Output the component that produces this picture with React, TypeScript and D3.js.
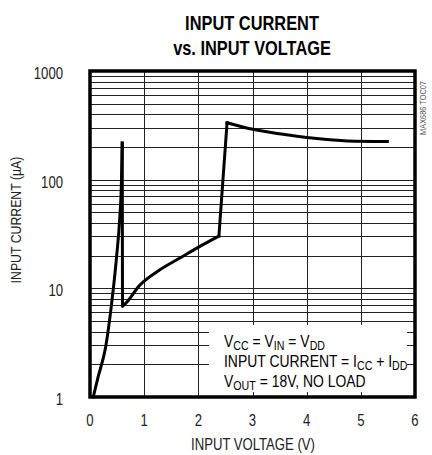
import React, { useEffect, useRef } from 'react';
import * as d3 from 'd3';

// curve: input voltage (V) vs input current (uA)
const voltage = [0.06, 0.15, 0.29, 0.4, 0.49, 0.55, 0.58, 0.595, 0.6, 0.62, 0.92, 1.29, 1.66, 2.02, 2.38, 2.53, 2.91, 3.53, 4.14, 4.75, 5.49];
const current = [1.0, 1.53, 2.9, 7.3, 19.4, 45, 93, 217, 6.9, 7.0, 10.7, 14.8, 19, 24.2, 30.3, 334, 297, 263, 240, 227, 224];
// index ranges of the curve pieces (smooth runs and straight jumps)
const pieces = [[0, 7], [7, 8], [8, 14], [14, 15], [15, 20]];

const xTicks = [0, 1, 2, 3, 4, 5, 6];
const yTicks = [1, 10, 100, 1000];

const W = 432;
const H = 455;
const FONT = '"Liberation Sans", Arial, sans-serif';
const SQ = 0.82; // condensed look

export default function App() {
  const svgRef = useRef<SVGSVGElement>(null);

  useEffect(() => {
    if (!svgRef.current) return;
    const svg = d3.select(svgRef.current);
    svg.selectAll('*').remove();

    const x = d3.scaleLinear().domain([0, 6]).range([90, 415]);
    const y = d3.scaleLog().domain([1, 1000]).range([397, 71]);
    const [x0, x1] = x.range();
    const [y0, y1] = y.range();

    const txt = (px: number, py: number, size: number, rot = 0) =>
      svg.append('text')
        .attr('transform', `translate(${px},${py}) rotate(${rot}) scale(${SQ},1)`)
        .attr('font-family', FONT)
        .attr('font-size', size)
        .attr('fill', '#222');

    // title
    txt(252, 30, 20).attr('text-anchor', 'middle').attr('font-weight', 'bold').attr('fill', '#000').text('INPUT CURRENT');
    txt(252, 55, 20).attr('text-anchor', 'middle').attr('font-weight', 'bold').attr('fill', '#000').text('vs. INPUT VOLTAGE');

    // grid
    const grid = svg.append('g').attr('stroke', '#222').attr('stroke-width', 1);
    const minor: number[] = [];
    for (let d = 1; d < 1000; d *= 10) {
      for (let k = 1; k < 10; k++) minor.push(d * k);
    }
    grid.selectAll('line.h')
      .data(minor)
      .join('line')
      .attr('x1', x0).attr('x2', x1)
      .attr('y1', d => Math.round(y(d)) + 0.5)
      .attr('y2', d => Math.round(y(d)) + 0.5);
    grid.selectAll('line.v')
      .data(xTicks.slice(1, -1))
      .join('line')
      .attr('x1', d => Math.round(x(d)) + 0.5)
      .attr('x2', d => Math.round(x(d)) + 0.5)
      .attr('y1', y0).attr('y2', y1);

    // legend box blanks the grid
    svg.append('rect')
      .attr('x', 209).attr('y', 325)
      .attr('width', 198).attr('height', 67)
      .attr('fill', '#fff');

    const lines: [string, boolean][][] = [
      [['V', false], ['CC', true], [' = V', false], ['IN', true], [' = V', false], ['DD', true]],
      [['INPUT CURRENT = I', false], ['CC', true], [' + I', false], ['DD', true]],
      [['V', false], ['OUT', true], [' = 18V, NO LOAD', false]],
    ];
    lines.forEach((parts, i) => {
      const t = txt(224, 347 + i * 20, 17).attr('fill', '#000');
      let down = false;
      parts.forEach(([s, sub]) => {
        const sp = t.append('tspan').text(s);
        if (sub) {
          sp.attr('font-size', 13).attr('dy', down ? 0 : 3);
          down = true;
        } else {
          sp.attr('dy', down ? -3 : 0);
          down = false;
        }
      });
    });

    // curve
    pieces.forEach(([a, b]) => {
      const idx = d3.range(a, b + 1);
      const l = d3.line<number>()
        .x(i => x(voltage[i]))
        .y(i => y(current[i]))
        .curve(b - a > 1 ? d3.curveMonotoneX : d3.curveLinear);
      svg.append('path')
        .datum(idx)
        .attr('fill', 'none')
        .attr('stroke', '#000')
        .attr('stroke-width', 3)
        .attr('stroke-linecap', 'square')
        .attr('d', l);
    });

    // frame
    svg.append('rect')
      .attr('x', x0).attr('y', y1)
      .attr('width', x1 - x0).attr('height', y0 - y1)
      .attr('fill', 'none')
      .attr('stroke', '#000')
      .attr('stroke-width', 3.5);

    // tick labels
    yTicks.forEach(d => {
      txt(63, y(d) + 8, 16).attr('text-anchor', 'end').text(d);
    });
    xTicks.forEach(d => {
      txt(x(d), 426, 16).attr('text-anchor', 'middle').text(d);
    });

    // axis titles
    txt(253, 450, 16).attr('text-anchor', 'middle').text('INPUT VOLTAGE (V)');
    txt(21, 220, 15, -90).attr('text-anchor', 'middle').text('INPUT CURRENT (µA)');

    // figure code
    txt(426, 108, 9, -90).attr('text-anchor', 'middle').attr('fill', '#555').text('MAX686 TOC07');
  }, []);

  return (
    <svg
      ref={svgRef}
      width={W}
      height={H}
      style={{ position: 'absolute', left: 0, top: 0, background: '#fff' }}
    />
  );
}
